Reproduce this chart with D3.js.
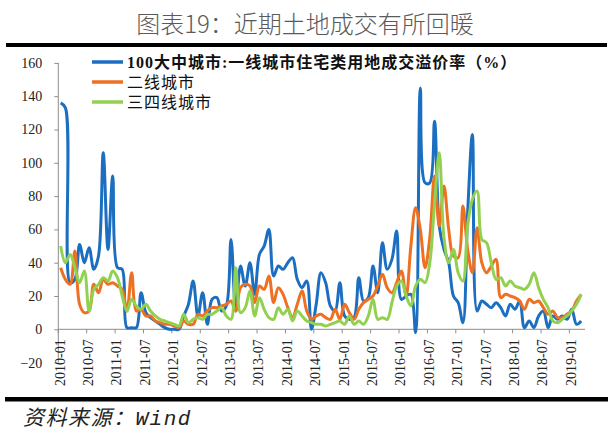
<!DOCTYPE html>
<html><head><meta charset="utf-8">
<script src="https://cdn.jsdelivr.net/npm/d3@7"></script>
<style>
html,body{margin:0;padding:0;background:#fff;}
svg{display:block;}
</style></head>
<body>
<svg id="chart" width="609" height="432"></svg>
<script>
// ---- data (monthly, 2010-01 .. 2019-03) ----
const startYear = 2010, startMonth = 1, nMonths = 111;
const categories = [];
for (let k = 0; k < nMonths; k++) {
  const y = startYear + Math.floor((startMonth - 1 + k) / 12);
  const m = (startMonth - 1 + k) % 12 + 1;
  categories.push(y + "-" + String(m).padStart(2, "0"));
}
const tier1 = [136,133,28,30,51,40,49,36,44,106,48,92,37,36,1,1,1,22,10,7,
  5,3,1,0,0,0,8,15,29,8,22,3,18,19,11,14,54,11,38,26,
  40,21,45,50,60,32,38,36,40,43,30,25,29,0,15,34,28,14,11,28,
  8,6,7,31,17,19,38,22,52,36,42,59,18,20,21,-2,145,88,88,125,
  62,48,40,20,16,4,70,117,11,17,15,13,16,13,8,15,12,17,1,5,
  1,8,11,1,8,6,8,6,12,3,5];
const tier2 = [37,30,27,47,15,10,11,27,22,30,27,28,26,24,11,34,11,12,8,8,
  5,4,3,3,2,1,5,3,3,9,8,11,13,13,14,15,17,11,25,27,
  26,16,26,24,32,16,25,21,13,7,15,23,11,6,8,9,7,6,12,6,
  15,10,6,12,16,18,20,26,33,25,22,28,35,20,50,73,60,37,55,92,
  62,86,60,44,43,74,48,34,61,40,34,38,42,19,21,20,19,17,12,18,
  16,17,13,9,11,7,7,9,11,17,21];
const tier34 = [50,40,45,37,28,35,11,24,27,31,29,35,31,20,11,18,14,12,15,11,
  8,6,5,4,3,2,9,4,6,7,6,9,9,11,13,8,6,37,10,13,
  23,8,19,12,7,6,13,9,12,5,11,8,5,4,3,3,2,3,4,5,
  3,8,3,5,3,8,18,6,7,6,16,26,29,20,14,26,30,28,40,75,
  106,55,40,48,34,29,62,78,83,54,52,40,30,31,26,29,26,25,24,27,
  34,25,18,13,5,4,6,8,11,15,21];
const seriesNames = ["100大中城市:一线城市住宅类用地成交溢价率（%）", "二线城市", "三四线城市"];
const seriesColors = ["#1c6fc0", "#ee7022", "#92d050"];
const yTicks = [-20,0,20,40,60,80,100,120,140,160];
const xTickLabels = ["2010-01","2010-07","2011-01","2011-07","2012-01","2012-07","2013-01","2013-07",
  "2014-01","2014-07","2015-01","2015-07","2016-01","2016-07","2017-01","2017-07","2018-01","2018-07","2019-01"];

const title = "图表19：近期土地成交有所回暖";
const source = "资料来源：Wind";

// ---- drawing ----
const svg = d3.select("#chart");
const x = d3.scaleLinear().domain([0, 111.3]).range([58.3, 585]);
const y = d3.scaleLinear().domain([-20, 160]).range([362.6, 62.9]);

// title
svg.append("text").attr("x", 305).attr("y", 33).attr("text-anchor", "middle")
  .attr("font-family", "'Noto Sans CJK SC', sans-serif").attr("font-size", 24)
  .attr("font-weight", 300).attr("fill", "#5a5a5a").text(title);
svg.append("rect").attr("x", 6).attr("y", 43).attr("width", 601).attr("height", 4).attr("fill", "#000");
svg.append("rect").attr("x", 5).attr("y", 397).attr("width", 603).attr("height", 4.5).attr("fill", "#000");
svg.append("text").attr("x", 23).attr("y", 425)
  .attr("font-family", "'Liberation Mono', 'Noto Sans CJK SC', monospace").attr("font-size", 21)
  .attr("letter-spacing", 1.5)
  .attr("font-style", "italic").attr("fill", "#222").text(source);

// y axis
const yAxis = d3.axisLeft(y).tickValues(yTicks).tickSize(4).tickPadding(12).tickFormat(d3.format("d"));
const gy = svg.append("g").attr("transform", "translate(58.3,0)").call(yAxis);
gy.select(".domain").attr("stroke", "#8c8c8c").attr("d", `M0,${y(-20)}V${y(160)}`);
gy.selectAll(".tick line").attr("stroke", "#8c8c8c");
gy.selectAll(".tick text").attr("font-family", "'Liberation Serif', serif").attr("font-size", 14).attr("fill", "#222");

// x axis at y=0
const tickIdx = xTickLabels.map(l => categories.indexOf(l));
const gx = svg.append("g").attr("transform", `translate(0,${y(0)})`);
gx.append("line").attr("x1", x(0)).attr("x2", x(111.3)).attr("stroke", "#8c8c8c");
gx.selectAll("line.tk").data(tickIdx).join("line").attr("class", "tk")
  .attr("x1", d => x(d)).attr("x2", d => x(d)).attr("y1", 0).attr("y2", 4).attr("stroke", "#8c8c8c");
gx.selectAll("text").data(xTickLabels).join("text")
  .attr("transform", (d, i) => `translate(${x(tickIdx[i]) + 1.5},10) rotate(-90)`)
  .attr("text-anchor", "end").attr("dy", "0.35em")
  .attr("font-family", "'Liberation Serif', serif").attr("font-size", 14).attr("fill", "#222")
  .text(d => d);

// lines
const line = d3.line().x((d, i) => x(i + 0.5)).y(d => y(d)).curve(d3.curveCatmullRom.alpha(0.5));
[tier1, tier2, tier34].forEach((s, k) => {
  svg.append("path").datum(s).attr("d", line).attr("fill", "none")
    .attr("stroke", seriesColors[k]).attr("stroke-width", 3).attr("stroke-linejoin", "round");
});

// legend
const lg = svg.append("g");
seriesNames.forEach((n, k) => {
  const ly = 62 + k * 20;
  lg.append("line").attr("x1", 92).attr("x2", 123).attr("y1", ly).attr("y2", ly)
    .attr("stroke", seriesColors[k]).attr("stroke-width", 3.5);
  lg.append("text").attr("x", 127).attr("y", ly + 6)
    .attr("font-family", "'Liberation Serif', 'Noto Sans CJK SC', serif").attr("font-size", 16)
    .attr("letter-spacing", 1).attr("font-weight", k === 0 ? "bold" : "normal")
    .attr("fill", "#111").text(n);
});
</script>
</body></html>
